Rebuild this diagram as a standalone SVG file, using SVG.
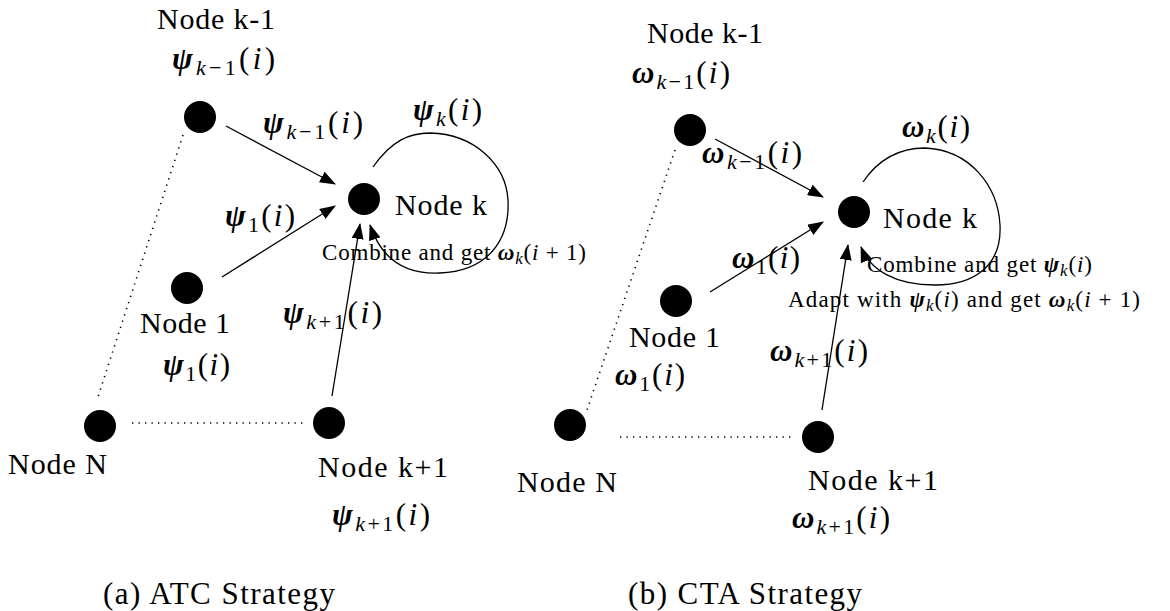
<svg xmlns="http://www.w3.org/2000/svg" width="1170" height="611" viewBox="0 0 1170 611">
<style>
text{font-family:"Liberation Serif","DejaVu Serif","Noto Serif",Tinos,"Times New Roman",serif;fill:#000}
.t{font-size:30px}
.m{font-size:31px}
.s{font-size:23px}
.cap{font-size:31px}
.b{font-weight:bold;font-style:italic}
.i{font-style:italic}
.sub{font-size:22px}
.ss{font-size:17px}
.node{fill:#000}
.edge{stroke:#000;stroke-width:1.3;fill:none}
.dot{stroke:#000;stroke-width:1.6;fill:none;stroke-dasharray:1.3 5.2}
</style>
<defs>
<marker id="ah" markerWidth="16" markerHeight="12" refX="15" refY="6" orient="auto" markerUnits="userSpaceOnUse">
<path d="M0,0 L16,6 L0,12 Z" fill="#000"/>
</marker>
</defs>

<g id="connectors">
<line class="edge" x1="226" y1="126" x2="335" y2="184" marker-end="url(#ah)"/>
<line class="edge" x1="222" y1="277" x2="335" y2="206" marker-end="url(#ah)"/>
<line class="edge" x1="332" y1="396" x2="360" y2="224" marker-end="url(#ah)"/>
<path class="edge" d="M373,167 C392,140 410,133 430,133 C475,134 506,165 508,200 C510,240 488,271 440,273 C400,275 380,255 370,225" marker-end="url(#ah)"/>
<line class="dot" x1="183" y1="135" x2="97" y2="400"/>
<line class="dot" x1="132" y1="423" x2="303" y2="423"/>
<line class="edge" x1="715" y1="139" x2="823" y2="197" marker-end="url(#ah)"/>
<line class="edge" x1="710" y1="292" x2="823" y2="222" marker-end="url(#ah)"/>
<line class="edge" x1="822" y1="410" x2="848" y2="245" marker-end="url(#ah)"/>
<path class="edge" d="M863,182 C880,157 903,148 925,148 C970,150 998,186 1000,225 C1002,265 975,285 935,285 C895,285 870,270 861,247" marker-end="url(#ah)"/>
<line class="dot" x1="675" y1="150" x2="586" y2="413"/>
<line class="dot" x1="620" y1="437" x2="793" y2="437"/>
</g>

<g id="a-node-km1">
<circle class="node" cx="200" cy="117" r="16"/>
<text class="t" x="157" y="29" textLength="118">Node k-1</text>
<text class="m" x="172" y="69" textLength="103"><tspan class="b">ψ</tspan><tspan class="sub" dy="6"><tspan class="i">k</tspan>−1</tspan><tspan dy="-6">(</tspan><tspan class="i">i</tspan>)</text>
</g>
<g id="a-node-k">
<circle class="node" cx="364" cy="199" r="16"/>
<text class="t" x="395" y="215" textLength="92">Node k</text>
<text class="s" x="322" y="260" textLength="264">Combine and get <tspan class="b">ω</tspan><tspan class="ss i" dy="4">k</tspan><tspan dy="-4">(</tspan><tspan class="i">i</tspan> + 1)</text>
</g>
<g id="a-node-1">
<circle class="node" cx="187" cy="288" r="16"/>
<text class="t" x="140" y="333" textLength="90">Node 1</text>
<text class="m" x="163" y="375" textLength="67"><tspan class="b">ψ</tspan><tspan class="sub" dy="6">1</tspan><tspan dy="-6">(</tspan><tspan class="i">i</tspan>)</text>
</g>
<g id="a-node-N">
<circle class="node" cx="100" cy="426" r="16"/>
<text class="t" x="8" y="474" textLength="99">Node N</text>
</g>
<g id="a-node-kp1">
<circle class="node" cx="329" cy="423" r="16"/>
<text class="t" x="318" y="477" textLength="130">Node k+1</text>
<text class="m" x="332" y="525" textLength="98"><tspan class="b">ψ</tspan><tspan class="sub" dy="6"><tspan class="i">k</tspan>+1</tspan><tspan dy="-6">(</tspan><tspan class="i">i</tspan>)</text>
</g>
<g id="a-labels">
<text class="m" x="263" y="133" textLength="100"><tspan class="b">ψ</tspan><tspan class="sub" dy="6"><tspan class="i">k</tspan>−1</tspan><tspan dy="-6">(</tspan><tspan class="i">i</tspan>)</text>
<text class="m" x="413" y="120" textLength="69"><tspan class="b">ψ</tspan><tspan class="sub i" dy="6">k</tspan><tspan dy="-6">(</tspan><tspan class="i">i</tspan>)</text>
<text class="m" x="225" y="226" textLength="70"><tspan class="b">ψ</tspan><tspan class="sub" dy="6">1</tspan><tspan dy="-6">(</tspan><tspan class="i">i</tspan>)</text>
<text class="m" x="283" y="323" textLength="99"><tspan class="b">ψ</tspan><tspan class="sub" dy="6"><tspan class="i">k</tspan>+1</tspan><tspan dy="-6">(</tspan><tspan class="i">i</tspan>)</text>
<text class="cap" x="103" y="604" textLength="232">(a) ATC Strategy</text>
</g>

<g id="b-node-km1">
<circle class="node" cx="690" cy="130" r="16"/>
<text class="t" x="647" y="43" textLength="116">Node k-1</text>
<text class="m" x="632" y="83" textLength="98"><tspan class="b">ω</tspan><tspan class="sub" dy="6"><tspan class="i">k</tspan>−1</tspan><tspan dy="-6">(</tspan><tspan class="i">i</tspan>)</text>
</g>
<g id="b-node-k">
<circle class="node" cx="854" cy="212" r="16"/>
<text class="t" x="883" y="228" textLength="94">Node k</text>
<text class="s" x="867" y="272" textLength="225">Combine and get <tspan class="b">ψ</tspan><tspan class="ss i" dy="4">k</tspan><tspan dy="-4">(</tspan><tspan class="i">i</tspan>)</text>
<text class="s" x="788" y="307" textLength="352">Adapt with <tspan class="b">ψ</tspan><tspan class="ss i" dy="4">k</tspan><tspan dy="-4">(</tspan><tspan class="i">i</tspan>) and get <tspan class="b">ω</tspan><tspan class="ss i" dy="4">k</tspan><tspan dy="-4">(</tspan><tspan class="i">i</tspan> + 1)</text>
</g>
<g id="b-node-1">
<circle class="node" cx="676" cy="301" r="16"/>
<text class="t" x="629" y="347" textLength="91">Node 1</text>
<text class="m" x="615" y="385" textLength="70"><tspan class="b">ω</tspan><tspan class="sub" dy="6">1</tspan><tspan dy="-6">(</tspan><tspan class="i">i</tspan>)</text>
</g>
<g id="b-node-N">
<circle class="node" cx="570" cy="425" r="16"/>
<text class="t" x="517" y="492" textLength="100">Node N</text>
</g>
<g id="b-node-kp1">
<circle class="node" cx="818" cy="437" r="16"/>
<text class="t" x="808" y="490" textLength="130">Node k+1</text>
<text class="m" x="792" y="528" textLength="98"><tspan class="b">ω</tspan><tspan class="sub" dy="6"><tspan class="i">k</tspan>+1</tspan><tspan dy="-6">(</tspan><tspan class="i">i</tspan>)</text>
</g>
<g id="b-labels">
<text class="m" x="702" y="163" textLength="100"><tspan class="b">ω</tspan><tspan class="sub" dy="6"><tspan class="i">k</tspan>−1</tspan><tspan dy="-6">(</tspan><tspan class="i">i</tspan>)</text>
<text class="m" x="902" y="137" textLength="68"><tspan class="b">ω</tspan><tspan class="sub i" dy="6">k</tspan><tspan dy="-6">(</tspan><tspan class="i">i</tspan>)</text>
<text class="m" x="732" y="268" textLength="68"><tspan class="b">ω</tspan><tspan class="sub" dy="6">1</tspan><tspan dy="-6">(</tspan><tspan class="i">i</tspan>)</text>
<text class="m" x="770" y="361" textLength="98"><tspan class="b">ω</tspan><tspan class="sub" dy="6"><tspan class="i">k</tspan>+1</tspan><tspan dy="-6">(</tspan><tspan class="i">i</tspan>)</text>
<text class="cap" x="628" y="604" textLength="234">(b) CTA Strategy</text>
</g>
</svg>
